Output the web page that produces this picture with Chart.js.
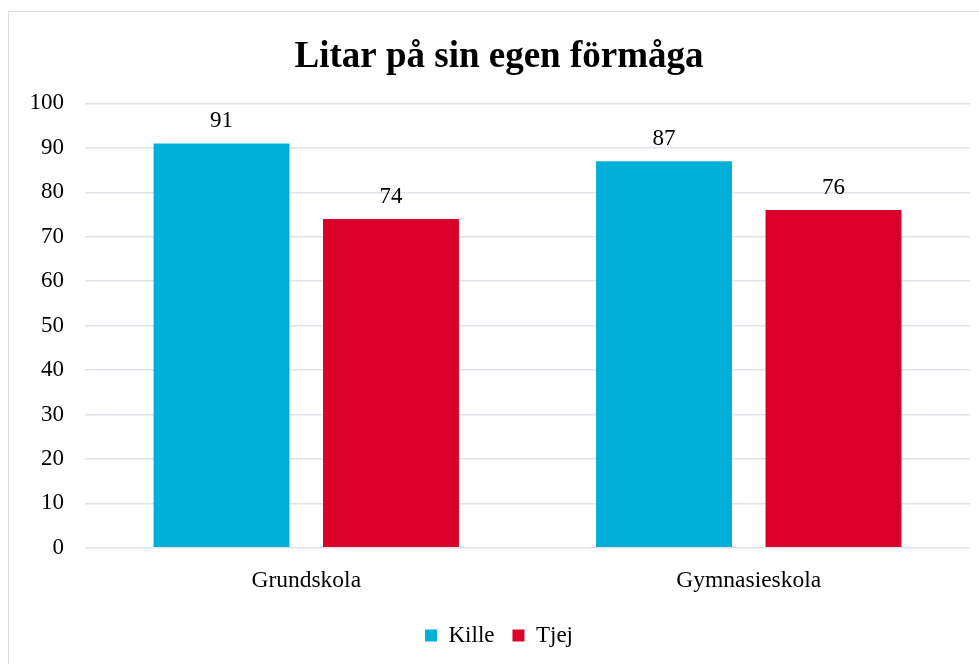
<!DOCTYPE html>
<html><head><meta charset="utf-8">
<script src="https://cdn.jsdelivr.net/npm/chart.js@4/dist/chart.umd.min.js"></script>
<style>
html,body{margin:0;padding:0;background:#fff;}
#wrap{position:relative;width:979px;height:664px;overflow:hidden;}
#frame{position:absolute;left:8px;top:11px;width:1000px;height:700px;border:1.5px solid #d9dde4;pointer-events:none;}
canvas{position:absolute;left:0;top:0;}
</style></head>
<body>
<div id="wrap"><canvas id="c" width="979" height="664"></canvas><div id="frame"></div></div>
<script>
const categories = ["Grundskola", "Gymnasieskola"];
const seriesNames = ["Kille", "Tjej"];
const killeValues = [91, 87];
const tjejValues = [74, 76];
const yTicks = [0,10,20,30,40,50,60,70,80,90,100];
const titleText = "Litar på sin egen förmåga";

const FONT = "'Liberation Serif','Times New Roman',serif";

const labelPlugin = {
  id: 'barLabels',
  afterDatasetsDraw(chart) {
    const ctx = chart.ctx;
    ctx.save();
    ctx.font = "23px " + FONT;
    ctx.fillStyle = "#000";
    ctx.textAlign = "center";
    ctx.textBaseline = "alphabetic";
    chart.data.datasets.forEach((ds, i) => {
      const meta = chart.getDatasetMeta(i);
      meta.data.forEach((bar, j) => {
        ctx.fillText(String(ds.data[j]), bar.x, bar.y - 16);
      });
    });
    ctx.restore();
  }
};

new Chart(document.getElementById('c'), {
  type: 'bar',
  data: {
    labels: categories,
    datasets: [
      { label: seriesNames[0], data: killeValues, backgroundColor: '#00B0D8', categoryPercentage: 0.766, barPercentage: 0.802 },
      { label: seriesNames[1], data: tjejValues, backgroundColor: '#DB0029', categoryPercentage: 0.766, barPercentage: 0.802 }
    ]
  },
  options: {
    responsive: false,
    animation: false,
    layout: { padding: { left: 28, right: 9, top: 0, bottom: 7 } },
    plugins: {
      title: { display: true, text: titleText, color: '#000',
        font: { family: FONT, size: 37, weight: 'bold' }, padding: { top: 35, bottom: 24 } },
      legend: { position: 'bottom',
        labels: { color: '#000', font: { family: FONT, size: 23 }, boxWidth: 12, boxHeight: 12, padding: 18 } },
      tooltip: { enabled: false }
    },
    scales: {
      x: {
        grid: { display: false },
        border: { display: false },
        ticks: { color: '#000', font: { family: FONT, size: 23.5 }, padding: 11 }
      },
      y: {
        min: 0, max: 100,
        afterBuildTicks(scale) { scale.ticks = yTicks.map(v => ({ value: v })); },
        afterFit(scale) { scale.width = 57; },
        grid: { color: '#dfe2e8', lineWidth: 1.5, drawTicks: false },
        border: { display: false },
        ticks: { color: '#000', font: { family: FONT, size: 23 }, padding: 21 }
      }
    }
  },
  plugins: [labelPlugin]
});
</script>
</body></html>
